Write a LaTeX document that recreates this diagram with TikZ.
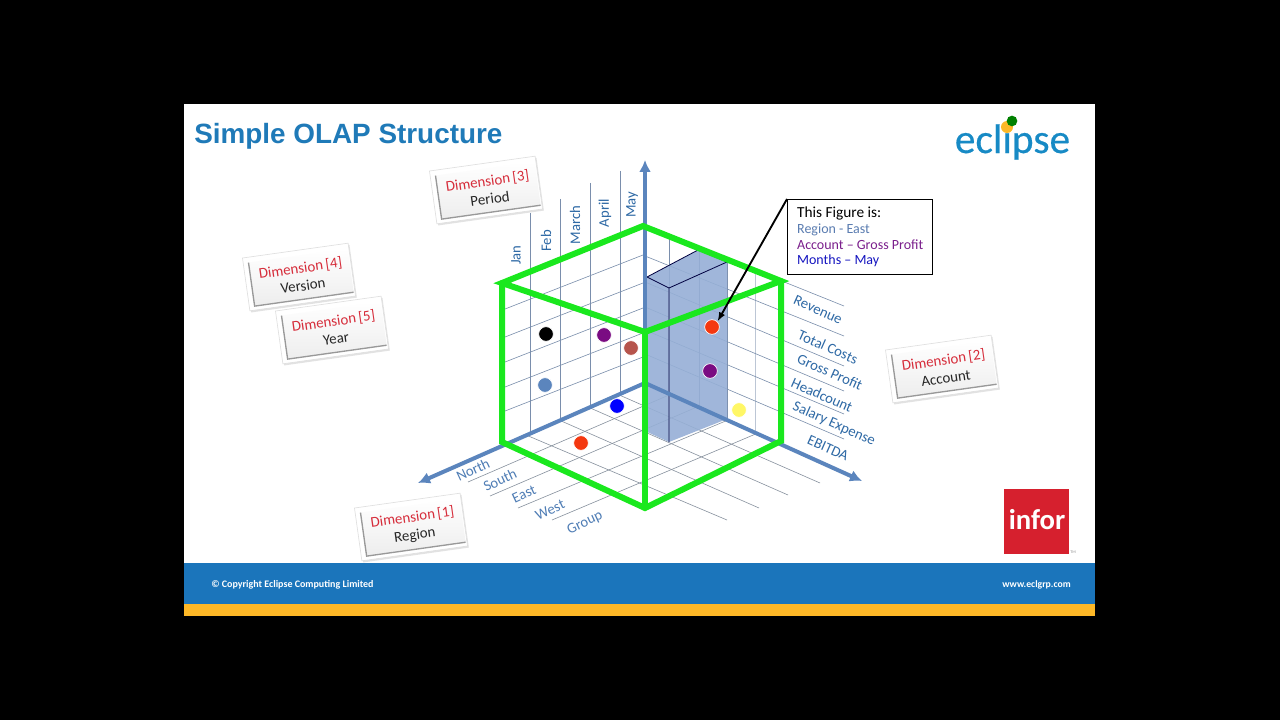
\documentclass[tikz,border=0pt]{standalone}
\usepackage{fontspec}
\setmainfont{Carlito}
\newfontfamily\titlefont{Liberation Sans}
\newfontfamily\logofont[FakeBold=0.4]{Carlito}
\usepackage{xcolor}
\usepackage{tikz}
\usetikzlibrary{arrows.meta,shadows}
\definecolor{slideblue}{RGB}{27,117,187}
\definecolor{slideyellow}{RGB}{253,184,39}
\definecolor{titleblue}{RGB}{31,122,184}
\definecolor{axisblue}{RGB}{91,133,189}
\definecolor{gridblue}{RGB}{122,142,172}
\definecolor{gridgrey}{RGB}{135,145,158}
\definecolor{blocktint}{RGB}{150,175,214}
\definecolor{cubegreen}{RGB}{26,232,30}
\definecolor{labelblue}{RGB}{46,105,165}
\definecolor{floorlabel}{RGB}{79,125,181}
\definecolor{dimred}{RGB}{214,44,58}
\definecolor{inforred}{RGB}{214,32,46}
\definecolor{figregion}{RGB}{91,125,177}
\definecolor{figaccount}{RGB}{123,31,140}
\definecolor{figmonth}{RGB}{21,21,192}
\definecolor{dotplum}{RGB}{122,12,130}
\definecolor{dotbrick}{RGB}{182,84,76}
\definecolor{dotorange}{RGB}{244,56,16}
\tikzset{
  axis/.style={-{Latex[length=9pt,width=9pt]}, line width=3pt, draw=axisblue},
  grid/.style={line width=0.45pt, draw=gridblue},
  floorgrid/.style={line width=0.45pt, draw=gridgrey},
  cube/.style={line width=4.5pt, draw=cubegreen, line cap=round},
  blockedge/.style={line width=0.6pt, draw=black!75!blue},
  dot/.style={circle, minimum size=11pt, inner sep=0pt, draw=white, line width=0.5pt},
  walllabel/.style={font=\fontsize{11}{12}\selectfont, text=labelblue},
  floorlab/.style={font=\fontsize{11}{12}\selectfont, text=floorlabel},
  dimlabel/.style={align=center, inner sep=0pt, font=\fontsize{11.2}{13.5}\selectfont},
  pics/dimcard/.style n args={2}{code={
    \fill[white,draw=black!12,line width=0.5pt,
      drop shadow={shadow xshift=1pt,shadow yshift=-1.2pt,fill=black!22}]
      (-40pt,-20pt) rectangle (40pt,20pt);
    \shade[top color=white,bottom color=black!7] (-36pt,-17pt) rectangle (39pt,16pt);
    \draw[black!40,line width=1pt] (-36pt,16pt) -- (-36pt,-17pt) -- (39pt,-17pt);
    \node[dimlabel] (-label) at (2pt,0pt) {\textcolor{dimred}{Dimension\,[#1]}\\\textcolor{black!85}{#2}};
  }}
}

\begin{document}
\begin{tikzpicture}[x=0.75pt,y=-0.75pt]
  \useasboundingbox (0,0) rectangle (1280,720);
  % Slide
  \fill[black] (0,0) rectangle (1280,720);
  \fill[white] (184,104) rectangle (1095,563);
  \fill[slideblue] (184,563) rectangle (1095,604);
  \fill[slideyellow] (184,604) rectangle (1095,616);
  \node[anchor=west,font=\titlefont\bfseries\fontsize{20.9}{24}\selectfont,text=titleblue,inner sep=0pt] (title) at (194,136.5) {Simple OLAP Structure};
  \node[anchor=west,font=\fontsize{7.5}{8}\selectfont\bfseries,text=white,inner sep=0pt] (copyright) at (211,585) {© Copyright Eclipse Computing Limited};
  \node[anchor=east,font=\fontsize{7.3}{8}\selectfont\bfseries,text=white,inner sep=0pt] (web) at (1071,585) {www.eclgrp.com};

  % Logos
  \node[font=\logofont\fontsize{31}{32}\selectfont,text=slideblue!85!cyan,inner sep=0pt] (eclipse) at (1012.5,142) {eclipse};
  \node[circle,fill=slideyellow,minimum size=9pt,inner sep=0pt] (sunyellow) at (1007,127) {};
  \node[circle,fill=green!50!black,minimum size=8pt,inner sep=0pt] (sungreen) at (1012,121) {};
  \node[fill=inforred,minimum size=48.75pt,inner sep=0pt] (infor) at (1036.5,521.5) {};
  \node[text=white,inner sep=0pt,font=\bfseries\fontsize{21.5}{24}\selectfont] (inforname) at (1037,520) {infor};
  \node[text=black!45,inner sep=0pt,font=\fontsize{3}{4}\selectfont] (infortm) at (1073,552) {TM};

  % Wall grid
  \foreach \xa/\ya/\yb in {530/213/432,560/199/419,590/183/406,620/171/392}
    \draw[grid] (\xa,\ya) -- (\xa,\yb);
  \foreach \xa/\ya/\yb in {669/237/395,699/249/408,727/259/420}
    \draw[grid] (\xa,\ya) -- (\xa,\yb);
  \draw[grid,draw=gridblue!50] (755,270) -- (755,433);
  \foreach \ya/\yb in {309/255,337/283,362/308,387/333,411/357}
    \draw[grid] (505,\ya) -- (643,\yb);
  \foreach \ya/\yb in {226/306,256/336,282/366,307/391,330/414,354/439}
    \draw[grid] (645,\ya) -- (844,\yb);

  % Floor grid
  \foreach \xa/\ya/\xb/\yb in {617/394/820/483,588/407/788/495,559/420/759/508,526/435/727/520}
    \draw[floorgrid] (\xa,\ya) -- (\xb,\yb);
  \foreach \xa/\ya/\xb/\yb in {468/482/669/395,490/496/697/407,518/508/728/420,552/520/758/433}
    \draw[floorgrid] (\xa,\ya) -- (\xb,\yb);

  % Block
  \coordinate (topback) at (698,250);
  \coordinate (topleft) at (647,277);
  \coordinate (topright) at (727,262);
  \coordinate (topfront) at (669,288);
  \coordinate (footleft) at (645,431);
  \coordinate (footfront) at (669,442);
  \coordinate (footright) at (727,419);
  \fill[blocktint,fill opacity=0.9] (topleft) -- (topback) -- (topright) -- (footright) -- (footfront) -- (footleft) -- cycle;
  \draw[blockedge] (topfront) -- (topleft) -- (topback) -- (topright) -- (topfront) -- (footfront);

  % Axes
  \coordinate (origin) at (645,383);
  \coordinate (axisup) at (645,160);
  \coordinate (axisleft) at (418,483);
  \coordinate (axisright) at (862,481);
  \draw[axis] (origin) -- (axisup);
  \draw[axis] (origin) -- (axisleft);
  \draw[axis] (origin) -- (axisright);

  % Cube
  \coordinate (ctb) at (643,226);
  \coordinate (ctl) at (502,283);
  \coordinate (ctr) at (781,281);
  \coordinate (ctf) at (645,332);
  \coordinate (cbl) at (502,442);
  \coordinate (cbr) at (781,441);
  \coordinate (cbf) at (645,508);
  \draw[cube] (ctl) -- (ctb) -- (ctr) -- (ctf) -- cycle;
  \draw[cube] (ctl) -- (cbl) -- (cbf) -- (cbr) -- (ctr);
  \draw[cube] (ctf) -- (cbf);

  % Figures
  \node[dot,fill=black] (dotblack) at (546,334) {};
  \node[dot,fill=dotplum] (dotpurple) at (604,335) {};
  \node[dot,fill=dotbrick] (dotbrown) at (631,348) {};
  \node[dot,fill=axisblue] (dotsteel) at (545,385) {};
  \node[dot,fill=blue] (dotblue) at (617,406) {};
  \node[dot,fill=dotorange] (dotfloor) at (581,443) {};
  \node[dot,fill=dotorange] (dotred) at (712,327) {};
  \node[dot,fill=dotplum] (dotgross) at (710,371) {};
  \node[dot,fill=yellow!60!white] (dotyellow) at (739,410) {};

  % Callout
  \node[draw=black,line width=0.8pt,fill=white,anchor=north west,align=left,minimum width=109pt,minimum height=56.5pt,inner sep=5pt,
    font=\fontsize{10.5}{11.7}\selectfont] (callout) at (787,199)
    {\fontsize{11.5}{14}\selectfont This Figure is:\\\textcolor{figregion}{Region - East}\\\textcolor{figaccount}{Account -- Gross Profit}\\\textcolor{figmonth}{Months -- May}};
  \draw[-{Latex[length=7pt,width=5pt]},line width=1.4pt] (callout.north west) -- (dotred.north east);

  % Period labels
  \node[walllabel,rotate=90] (jan) at (516,255) {Jan};
  \node[walllabel,rotate=90] (feb) at (546,241) {Feb};
  \node[walllabel,rotate=90] (march) at (575,225) {March};
  \node[walllabel,rotate=90] (april) at (605,213) {April};
  \node[walllabel,rotate=90] (may) at (632,205) {May};

  % Account labels
  \node[walllabel,rotate=-24] (revenue) at (818,310) {Revenue};
  \node[walllabel,rotate=-24] (costs) at (828,347) {Total Costs};
  \node[walllabel,rotate=-24] (gross) at (830,372) {Gross Profit};
  \node[walllabel,rotate=-24] (headcount) at (822,395) {Headcount};
  \node[walllabel,rotate=-24] (salary) at (834,424) {Salary Expense};
  \node[walllabel,rotate=-24] (ebitda) at (828,448) {EBITDA};

  % Region labels
  \node[floorlab,rotate=25] (north) at (473,470) {North};
  \node[floorlab,rotate=25] (south) at (500,480) {South};
  \node[floorlab,rotate=25] (east) at (524,494) {East};
  \node[floorlab,rotate=25] (west) at (550,510) {West};
  \node[floorlab,rotate=25] (group) at (585,523) {Group};

  % Dimensions
  \pic[rotate=8,transform shape] (dimperiod) at (486,190) {dimcard={3}{Period}};
  \pic[rotate=8,transform shape] (dimversion) at (299,277) {dimcard={4}{Version}};
  \pic[rotate=8,transform shape] (dimyear) at (332,330) {dimcard={5}{Year}};
  \pic[rotate=8,transform shape] (dimregion) at (411,527) {dimcard={1}{Region}};
  \pic[rotate=8,transform shape] (dimaccount) at (942,369) {dimcard={2}{Account}};
\end{tikzpicture}
\end{document}
